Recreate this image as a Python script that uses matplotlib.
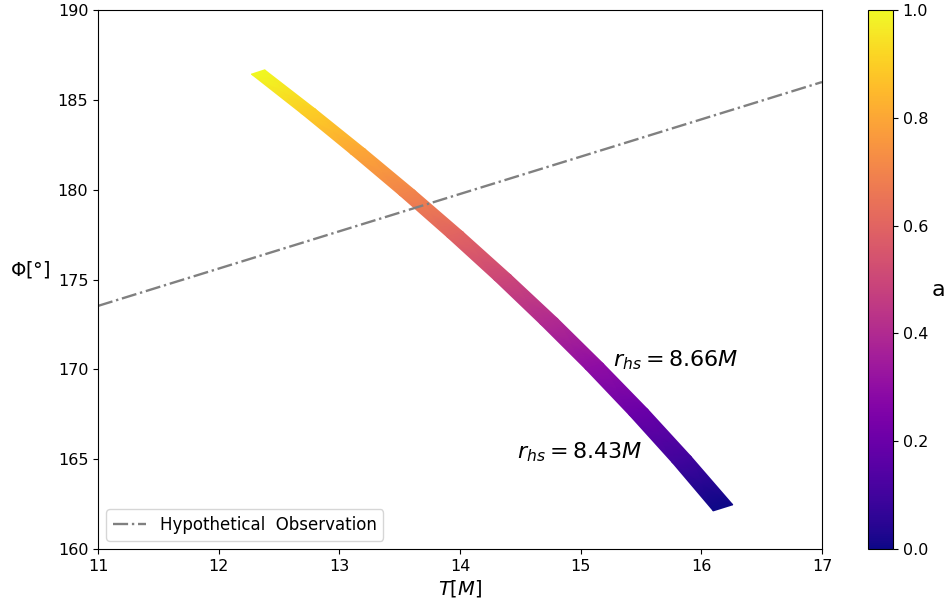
import numpy as np
import matplotlib

matplotlib.use("Agg")
import matplotlib.pyplot as plt

# spin parameter along the band (top -> bottom)
a_vals = [1.0, 0.9, 0.8, 0.7, 0.6, 0.5, 0.4, 0.3, 0.2, 0.1, 0.0]

# edge r_hs = 8.43M (lower-left side of the band)
T_lo = [12.271, 12.686, 13.095, 13.499, 13.895, 14.285, 14.666, 15.040, 15.404, 15.758, 16.099]
phi_lo = [186.43, 184.24, 181.99, 179.70, 177.36, 174.97, 172.52, 170.02, 167.45, 164.82, 162.12]

# edge r_hs = 8.66M (upper-right side of the band)
T_hi = [12.381, 12.802, 13.215, 13.625, 14.025, 14.421, 14.808, 15.186, 15.556, 15.914, 16.261]
phi_hi = [186.67, 184.48, 182.25, 179.96, 177.64, 175.25, 172.82, 170.32, 167.77, 165.15, 162.46]

# hypothetical observation line
obs_T = [11.0, 17.0]
obs_phi = [173.53, 185.99]


def main():
    fig = plt.figure(figsize=(9.5, 6.09), dpi=100)
    ax = fig.add_axes([98 / 950, 60 / 609, 724 / 950, 539 / 609])
    cax = fig.add_axes([868 / 950, 60 / 609, 25 / 950, 539 / 609])

    X = np.array([T_lo, T_hi])
    Y = np.array([phi_lo, phi_hi])
    C = np.array([a_vals, a_vals])
    mesh = ax.pcolormesh(X, Y, C, cmap="plasma", vmin=0, vmax=1,
                         shading="gouraud", zorder=1)

    ax.plot(obs_T, obs_phi, color="gray", linestyle="-.", linewidth=1.7,
            label="Hypothetical  Observation", zorder=2)

    ax.text(15.27, 170.5, r"$r_{hs} = 8.66M$", fontsize=16, va="center")
    ax.text(14.47, 165.4, r"$r_{hs} = 8.43M$", fontsize=16, va="center")

    ax.set_xlim(11, 17)
    ax.set_ylim(160, 190)
    ax.tick_params(labelsize=11.5)
    ax.set_xlabel(r"$T[M]$", fontsize=14, labelpad=3)
    ax.set_ylabel(r"$\Phi[°]$", fontsize=14, rotation=0, labelpad=20)
    ax.legend(loc="lower left", fontsize=12)

    cb = fig.colorbar(mesh, cax=cax)
    cb.ax.tick_params(labelsize=11.5)
    cb.set_label("a", fontsize=16, rotation=0, ha="center", va="center")
    cb.ax.yaxis.set_label_coords(2.8, 0.48)

    fig.savefig("out.png", dpi=100)
    plt.close(fig)


if __name__ == "__main__":
    main()
